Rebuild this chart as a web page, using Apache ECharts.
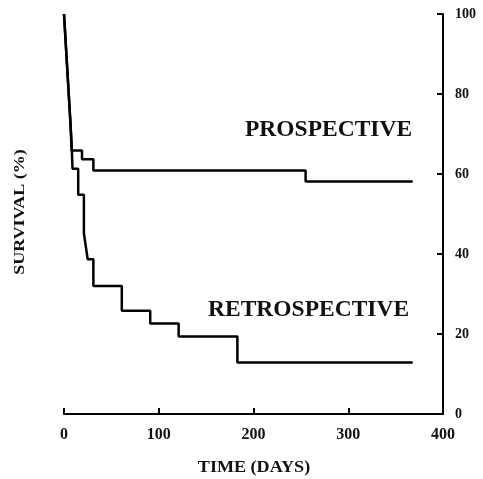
<!DOCTYPE html>
<html><head><meta charset="utf-8">
<script src="https://cdn.jsdelivr.net/npm/echarts@6/dist/echarts.min.js"></script>
<style>html,body{margin:0;padding:0;background:#fff}#c{width:483px;height:479px}</style>
</head><body><div id="c"></div>
<script>
// Kaplan-Meier step data: [day, survival %]
const prospectiveDays   = [0, 1, 2, 3, 4, 5, 6, 7, 8, 19, 31, 255, 368];
const prospectiveValues = [100, 96, 92, 88, 84, 80, 76, 72, 65.9, 63.7, 60.9, 58.1, 58.1];
const retrospectiveDays   = [0, 1, 2, 3, 4, 5, 6, 7, 8, 9, 15, 21, 23, 25, 31, 61, 91, 121, 183, 368];
const retrospectiveValues = [100, 96, 92, 88, 84, 80, 76, 72, 67.7, 61.3, 54.8, 45.2, 41.9, 38.7, 32.0, 25.8, 22.6, 19.4, 12.9, 12.9];
const xTicks = [0, 100, 200, 300, 400];
const yTicks = [0, 20, 40, 60, 80, 100];

const font = '"Liberation Serif", "DejaVu Serif", serif';
const pair = (xs, ys) => xs.map((x, i) => [x, ys[i]]);

const chart = echarts.init(document.getElementById('c'));
chart.setOption({
  animation: false,
  grid: { left: 64, right: 40, top: 14, bottom: 65 },
  xAxis: {
    type: 'value', min: xTicks[0], max: xTicks[xTicks.length - 1], interval: 100,
    axisLine: { onZero: false, lineStyle: { color: '#000', width: 2 } },
    axisTick: { inside: true, length: 6, lineStyle: { color: '#000', width: 2 } },
    axisLabel: { fontFamily: font, fontSize: 16, fontWeight: 'bold', color: '#111', margin: 13 },
    splitLine: { show: false }
  },
  yAxis: {
    type: 'value', position: 'right', min: yTicks[0], max: yTicks[yTicks.length - 1], interval: 20,
    axisLine: { show: true, onZero: false, lineStyle: { color: '#000', width: 2 } },
    axisTick: { inside: true, length: 6, lineStyle: { color: '#000', width: 2 } },
    axisLabel: { fontFamily: font, fontSize: 14, fontWeight: 'bold', color: '#111', margin: 12 },
    splitLine: { show: false }
  },
  graphic: [
    { type: 'text', x: 245, y: 130, style: { text: 'PROSPECTIVE', font: 'bold 23.5px ' + font, fill: '#111', verticalAlign: 'middle' } },
    { type: 'text', x: 208, y: 310, style: { text: 'RETROSPECTIVE', font: 'bold 23.5px ' + font, fill: '#111', verticalAlign: 'middle' } },
    { type: 'text', x: 254, y: 468, scaleX: 1.13, style: { text: 'TIME (DAYS)', font: 'bold 16px ' + font, fill: '#111', align: 'center', verticalAlign: 'middle' } },
    { type: 'text', x: 20, y: 212, rotation: Math.PI / 2, scaleX: 1.2, style: { text: 'SURVIVAL (%)', font: 'bold 15px ' + font, fill: '#111', align: 'center', verticalAlign: 'middle' } }
  ],
  series: [
    { type: 'line', step: 'end', data: pair(prospectiveDays, prospectiveValues), symbol: 'none',
      lineStyle: { color: '#000', width: 2.5 } },
    { type: 'line', step: 'end', data: pair(retrospectiveDays, retrospectiveValues), symbol: 'none',
      lineStyle: { color: '#000', width: 2.5 } }
  ]
});
</script></body></html>
